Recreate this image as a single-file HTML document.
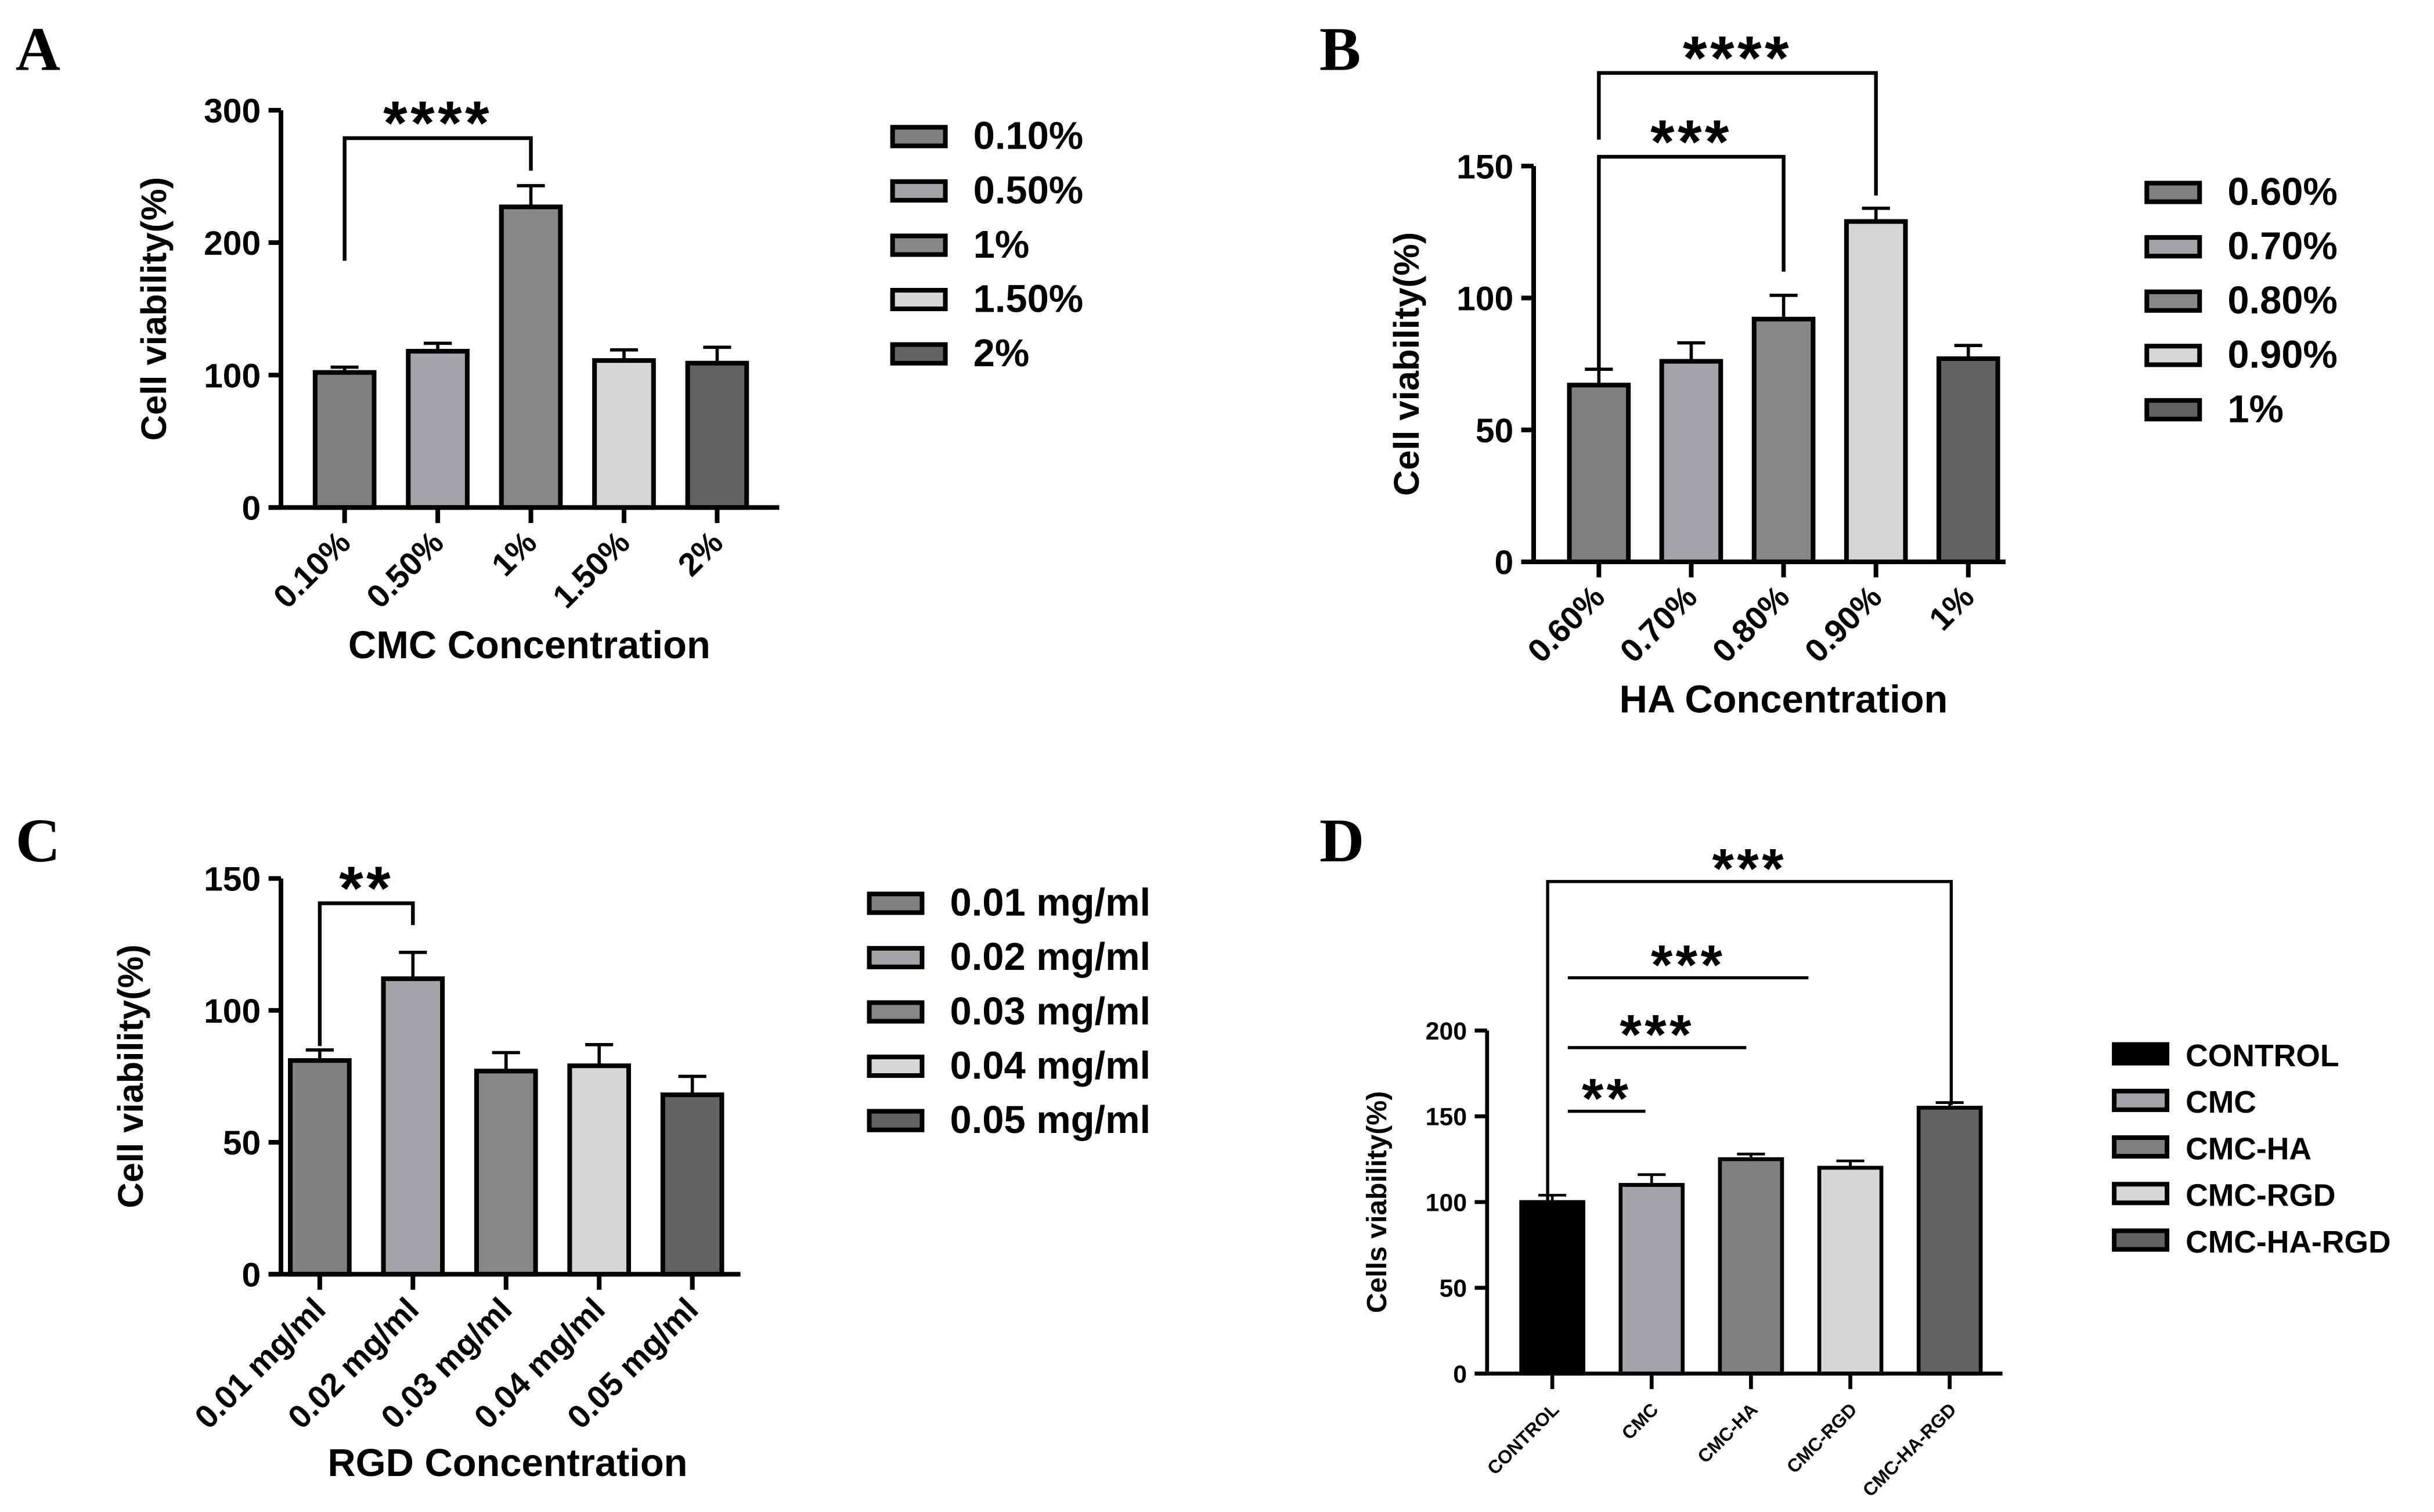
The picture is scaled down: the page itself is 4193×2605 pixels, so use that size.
<!DOCTYPE html>
<html><head><meta charset="utf-8"><style>
html,body{margin:0;padding:0;background:#fff}
svg{display:block}
text{font-family:"Liberation Sans",sans-serif;font-weight:bold;fill:#000}
</style></head><body>
<svg id="fig" width="4193" height="2605" viewBox="0 0 1568 974.2" preserveAspectRatio="none" xmlns="http://www.w3.org/2000/svg">
<text x="10" y="45" style="font-family:'Liberation Serif',serif;font-size:40px">A</text>
<text x="850" y="45" style="font-family:'Liberation Serif',serif;font-size:40px">B</text>
<text x="10" y="555" style="font-family:'Liberation Serif',serif;font-size:40px">C</text>
<text x="850" y="555" style="font-family:'Liberation Serif',serif;font-size:40px">D</text>
</svg>
<script>
const catsA=["0.10%","0.50%","1%","1.50%","2%"];
const valsA=[102,118,227,111,109];
const errsA=[4,6,16,8,12];
const ticksA=[0,100,200,300];
const catsB=["0.60%","0.70%","0.80%","0.90%","1%"];
const valsB=[67,76,92,129,77];
const errsB=[6,7,9,5,5];
const ticksB=[0,50,100,150];
const catsC=["0.01 mg/ml","0.02 mg/ml","0.03 mg/ml","0.04 mg/ml","0.05 mg/ml"];
const valsC=[81,112,77,79,68];
const errsC=[4,10,7,8,7];
const ticksC=[0,50,100,150];
const catsD=["CONTROL","CMC","CMC-HA","CMC-RGD","CMC-HA-RGD"];
const valsD=[100,110,125,120,155];
const errsD=[4,6,3,4,3];
const ticksD=[0,50,100,150,200];

const svg=document.getElementById('fig');
const NS="http://www.w3.org/2000/svg";
function mk(tag,attrs,parent){const e=document.createElementNS(NS,tag);for(const k in attrs)e.setAttribute(k,attrs[k]);(parent||svg).appendChild(e);return e;}
const greys=["#808080","#a3a3a8","#878787","#d6d6d6","#636363"];

function panel(p){
  const g=mk('g',{});
  
  
  const y=v=>p.y0-(v/p.ymax)*(p.y0-p.yTop);
  const x=i=>p.xStart+i*p.step;
  p.vals.forEach((v,i)=>{
    const cx=x(i), top=y(v), ey=y(v+p.errs[i]);
    const el=mk('line',{x1:cx,x2:cx,y1:top,y2:ey,stroke:'#000','stroke-width':p.sw*0.7},g);
    
    
    const cap=mk('line',{x1:cx-9,x2:cx+9,y1:ey,y2:ey,stroke:'#000','stroke-width':p.sw*0.7},g);
    
    
    const r=mk('rect',{x:cx-p.bw/2,y:top,width:p.bw,height:p.y0-top,fill:p.colors[i],stroke:'#000','stroke-width':p.sw},g);
    
    
  });
  const ya=mk('line',{x1:p.xAxis,x2:p.xAxis,y1:y(p.ticks[p.ticks.length-1]),y2:p.y0,stroke:'#000','stroke-width':p.sw},g);
  
  
  const xa=mk('line',{x1:p.xAxis-8,x2:p.xEnd,y1:p.y0,y2:p.y0,stroke:'#000','stroke-width':p.sw},g);
  
  
  p.ticks.forEach(t=>{
    mk('line',{x1:p.xAxis-8,x2:p.xAxis,y1:y(t),y2:y(t),stroke:'#000','stroke-width':p.sw},g);
    const tx=mk('text',{x:p.xAxis-13,y:y(t)+p.tf*0.36,'text-anchor':'end','font-size':p.tf},g);
    tx.textContent=t;
    
    
  });
  p.cats.forEach((c,i)=>{
    mk('line',{x1:x(i),x2:x(i),y1:p.y0,y2:p.y0+10,stroke:'#000','stroke-width':p.sw},g);
    const tx=mk('text',{x:x(i)+5,y:p.y0+24,'text-anchor':'end','font-size':p.xf,transform:`rotate(-45 ${x(i)+5} ${p.y0+24})`},g);
    tx.textContent=c;
    
    
  });
  const yt=mk('text',{x:p.ytX,y:(p.y0+p.yTop)/2,'text-anchor':'middle','font-size':p.ytf,transform:`rotate(-90 ${p.ytX} ${(p.y0+p.yTop)/2})`},g);
  yt.textContent=p.ytitle;
  
  
  if(p.xtitle){
    const xt=mk('text',{x:p.xtX,y:p.xtY,'text-anchor':'middle','font-size':25},g);
    xt.textContent=p.xtitle;
    
    
  }
  p.cats.forEach((c,i)=>{
    const ly=p.legY+i*p.legStep;
    const r=mk('rect',{x:p.legX,y:ly-6,width:34,height:12,fill:p.colors[i],stroke:'#000','stroke-width':3},g);
    
    
    const t=mk('text',{x:p.legX+p.legTx,y:ly+8,'font-size':p.lf},g);
    t.textContent=c;
    
    
  });
  p.sig.forEach(s=>{
    const pts=[];
    if(s.l!=null)pts.push(`${x(s.a)+(s.ao||0)},${s.l}`);
    pts.push(`${x(s.a)+(s.ao||0)},${s.y}`);
    pts.push(`${x(s.b)+(s.bo||0)},${s.y}`);
    if(s.r!=null)pts.push(`${x(s.b)+(s.bo||0)},${s.r}`);
    const pl=mk('polyline',{points:pts.join(' '),fill:'none',stroke:'#000','stroke-width':p.sw*0.8},g);
    
    
    const t=mk('text',{x:(x(s.a)+(s.ao||0)+x(s.b)+(s.bo||0))/2,y:s.y+4,'text-anchor':'middle','font-size':p.sf,'letter-spacing':2},g);
    t.textContent=s.t;
    
    
  });
}

panel({id:'panel-a',cats:catsA,vals:valsA,errs:errsA,ticks:ticksA,ymax:300,y0:327,yTop:71,xAxis:181,xEnd:502,xStart:222,step:60,bw:38,sw:3,colors:greys,tf:22,xf:21,ytf:23,ytX:107,ytitle:'Cell viability(%)',xtitle:'CMC Concentration',xtX:341,xtY:424,legX:575,legY:88,legStep:35,legTx:52,lf:25,sf:40,
  sig:[{a:0,b:2,y:89,l:168,r:110,t:'****'}]});
panel({id:'panel-b',cats:catsB,vals:valsB,errs:errsB,ticks:ticksB,ymax:150,y0:362,yTop:107,xAxis:988,xEnd:1292,xStart:1030,step:59.5,bw:38,sw:3,colors:greys,tf:22,xf:21,ytf:23,ytX:914,ytitle:'Cell viability(%)',xtitle:'HA Concentration',xtX:1149,xtY:459,legX:1383,legY:124,legStep:35,legTx:52,lf:25,sf:40,
  sig:[{a:0,b:2,y:101,l:238,r:175,t:'***'},{a:0,b:3,y:47,l:90,r:126,t:'****'}]});
panel({id:'panel-c',cats:catsC,vals:valsC,errs:errsC,ticks:ticksC,ymax:150,y0:821,yTop:566,xAxis:181,xEnd:477,xStart:206,step:60,bw:38,sw:3,colors:greys,tf:22,xf:21,ytf:23,ytX:92,ytitle:'Cell viability(%)',xtitle:'RGD Concentration',xtX:327,xtY:951,legX:560,legY:582,legStep:35,legTx:52,lf:25,sf:40,
  sig:[{a:0,b:1,y:582,l:674,r:596,t:'**'}]});
panel({id:'panel-d',cats:catsD,vals:valsD,errs:errsD,ticks:ticksD,ymax:200,y0:885,yTop:664,xAxis:958,xEnd:1290,xStart:1000,step:64,bw:40,sw:2.5,colors:["#000000","#a3a3a8","#808080","#d6d6d6","#636363"],tf:16,xf:12,ytf:18,ytX:893,ytitle:'Cells viability(%)',xtitle:null,legX:1362,legY:679,legStep:30,legTx:46,lf:20,sf:36,
  sig:[{a:0,b:1,ao:10,bo:-4,y:716,t:'**'},{a:0,b:2,ao:10,bo:-3,y:675,t:'***'},{a:0,b:3,ao:10,bo:-27,y:630,t:'***'},{a:0,b:4,ao:-3,bo:1,y:568,l:858,r:712,t:'***'}]});
</script>
</body></html>
